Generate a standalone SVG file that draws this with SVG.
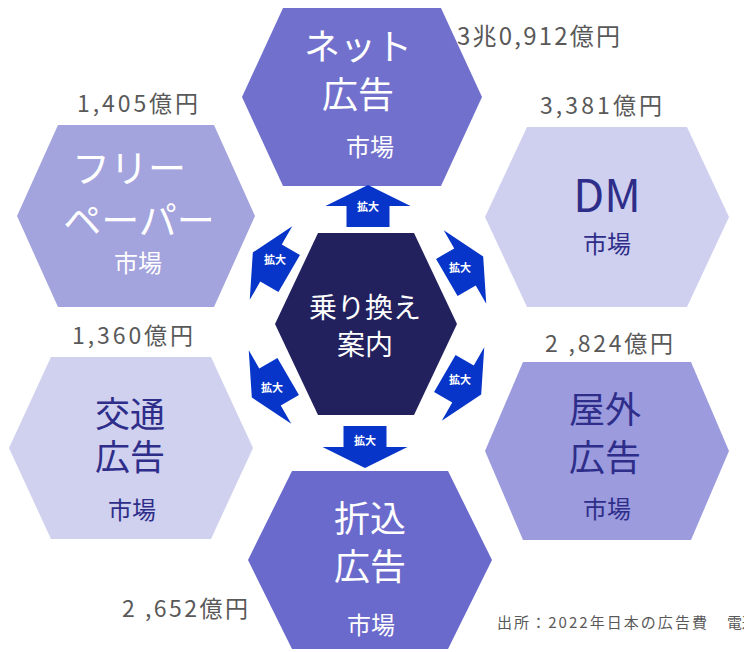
<svg xmlns="http://www.w3.org/2000/svg" xmlns:xlink="http://www.w3.org/1999/xlink" width="744" height="652" viewBox="0 0 744 652">
<style>
text{font-family:"Noto Sans CJK JP","Noto Sans",sans-serif;text-anchor:middle}
.big{font-size:36px}
.sub{font-size:24px}
.w{fill:#ffffff}
.d{fill:#2e2e8a}
.val{font-size:23px;fill:#595959;text-anchor:start}
.lbl{font-size:11px;fill:#ffffff;font-weight:bold}
.arr{fill:#0735c9}
</style>
<defs>
<path id="arr" d="M0,-21 L42.5,0 L21.5,0 L21.5,21 L-21.5,21 L-21.5,0 L-42.5,0 Z"/>
</defs>
<rect width="744" height="652" fill="#ffffff"/>

<g id="net">
<polygon points="283,8 441,8 482,97 441,186 283,186 242,97" fill="#7171cd"/>
<text class="big w" x="358" y="60">ネット</text>
<text class="big w" x="358" y="108">広告</text>
<text class="sub w" x="370" y="156">市場</text>
<text class="val" x="457" y="45" textLength="163" lengthAdjust="spacing" style="font-size:24px">3兆0,912億円</text>
</g>

<g id="freepaper">
<polygon points="58,125 214,125 255,216 214,307 58,307 17,216" fill="#a3a3dd"/>
<text class="big w" x="129" y="182" style="font-size:38px">フリー</text>
<text class="big w" x="139" y="234" style="font-size:38px">ペーパー</text>
<text class="sub w" x="138" y="272">市場</text>
<text class="val" x="77" y="112" textLength="121" lengthAdjust="spacing">1,405億円</text>
</g>

<g id="dm">
<polygon points="527,127 687,127 729,217 687,307 527,307 485,217" fill="#cfd0ef"/>
<text class="d" x="607" y="212" style="font-size:45px">DM</text>
<text class="sub d" x="607" y="253">市場</text>
<text class="val" x="540" y="114" textLength="122" lengthAdjust="spacing">3,381億円</text>
</g>

<g id="kotsu">
<polygon points="51,357 211,357 253,448 211,539 51,539 9,448" fill="#d0d0ef"/>
<text class="d" x="130" y="427" style="font-size:35px">交通</text>
<text class="d" x="130" y="470" style="font-size:35px">広告</text>
<text class="sub d" x="132" y="519">市場</text>
<text class="val" x="72" y="344" textLength="121" lengthAdjust="spacing">1,360億円</text>
</g>

<g id="okugai">
<polygon points="523,362 691,362 729,451 691,540 523,540 485,451" fill="#9b9bde"/>
<text class="big d" x="605" y="423">屋外</text>
<text class="big d" x="605" y="471">広告</text>
<text class="sub d" x="607" y="518">市場</text>
<text class="val" x="545" y="352" textLength="128" lengthAdjust="spacing">2 ,824億円</text>
</g>

<g id="orikomi">
<polygon points="292,471 448,471 492,560 448,649 292,649 248,560" fill="#6a6acc"/>
<text class="big w" x="370" y="532">折込</text>
<text class="big w" x="370" y="580">広告</text>
<text class="sub w" x="371" y="634">市場</text>
<text class="val" x="122" y="617" textLength="126" lengthAdjust="spacing">2 ,652億円</text>
</g>

<g id="center">
<polygon points="318,233 414,233 457,324 414,415 318,415 275,324" fill="#22215e"/>
<text class="w" x="365" y="318" style="font-size:28px">乗り換え</text>
<text class="w" x="365" y="355" style="font-size:28px">案内</text>
</g>

<g id="connectors">
<use href="#arr" class="arr" transform="translate(368,206)"/>
<use href="#arr" class="arr" transform="translate(365,447) rotate(180)"/>
<use href="#arr" class="arr" transform="translate(271,263) rotate(-60)"/>
<use href="#arr" class="arr" transform="translate(465,267) rotate(60)"/>
<use href="#arr" class="arr" transform="translate(270,387) rotate(-120)"/>
<use href="#arr" class="arr" transform="translate(463,384) rotate(120)"/>
<text class="lbl" x="368" y="211">拡大</text>
<text class="lbl" x="365" y="445">拡大</text>
<text class="lbl" x="275" y="264">拡大</text>
<text class="lbl" x="460" y="272">拡大</text>
<text class="lbl" x="272" y="392">拡大</text>
<text class="lbl" x="460" y="384">拡大</text>
</g>

<g id="source">
<text x="497" y="628" style="font-size:15px;fill:#595959;text-anchor:start" textLength="210" lengthAdjust="spacing">出所：2022年日本の広告費</text>
<text x="727" y="628" style="font-size:15px;fill:#595959;text-anchor:start">電通</text>
</g>
</svg>
